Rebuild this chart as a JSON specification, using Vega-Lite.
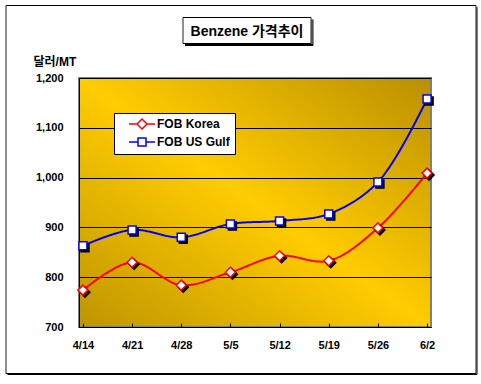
{
  "$schema": "https://vega.github.io/schema/vega-lite/v6.json",
  "width": 352,
  "height": 249,
  "autosize": {"type": "none"},
  "padding": {"left": 79, "top": 78, "right": 50, "bottom": 57},
  "background": "white",
  "config": {
    "view": {
      "stroke": "#808080",
      "strokeWidth": 2,
      "fill": {"gradient": "linear", "x1": 0, "y1": 1, "x2": 1, "y2": 0, "stops": [{"offset": 0, "color": "#BF9500"}, {"offset": 0.5, "color": "#FFCC00"}, {"offset": 1, "color": "#BA8F00"}]}
    },
    "legend": {"labelFont": "Liberation Sans", "labelFontWeight": "bold", "labelColor": "black"}
  },
  "data": {"values": [
    {"date": "4/14", "series": "FOB Korea", "price": 774},
    {"date": "4/21", "series": "FOB Korea", "price": 830},
    {"date": "4/28", "series": "FOB Korea", "price": 784},
    {"date": "5/5", "series": "FOB Korea", "price": 810},
    {"date": "5/12", "series": "FOB Korea", "price": 843},
    {"date": "5/19", "series": "FOB Korea", "price": 833},
    {"date": "5/26", "series": "FOB Korea", "price": 899},
    {"date": "6/2", "series": "FOB Korea", "price": 1009},
    {"date": "4/14", "series": "FOB US Gulf", "price": 863},
    {"date": "4/21", "series": "FOB US Gulf", "price": 895},
    {"date": "4/28", "series": "FOB US Gulf", "price": 880},
    {"date": "5/5", "series": "FOB US Gulf", "price": 907},
    {"date": "5/12", "series": "FOB US Gulf", "price": 913},
    {"date": "5/19", "series": "FOB US Gulf", "price": 927},
    {"date": "5/26", "series": "FOB US Gulf", "price": 991},
    {"date": "6/2", "series": "FOB US Gulf", "price": 1158}
  ]},
  "encoding": {
    "x": {"field": "date", "type": "ordinal", "sort": null, "scale": {"type": "point", "padding": 0.08},
      "axis": {"title": "Benzene 가격추이", "titleX": 167.5, "titleY": -296, "titleAlign": "center", "titleBaseline": "middle", "titleFont": "Liberation Sans, Noto Sans CJK KR", "titleFontSize": 14, "titleFontWeight": "bold", "titleColor": "black",
        "labelAngle": 0, "labelFont": "Liberation Sans", "labelFontSize": 11, "labelFontWeight": "bold", "labelColor": "black", "domainColor": "black", "domainWidth": 1, "tickColor": "black", "tickSize": -4, "labelPadding": 16, "grid": false}},
    "y": {"field": "price", "type": "quantitative", "scale": {"domain": [700, 1200], "nice": false, "zero": false},
      "axis": {"title": "달러/MT", "titleAngle": 0, "titleAlign": "left", "titleBaseline": "middle", "titleX": -46, "titleY": -17, "titleFont": "Liberation Sans, Noto Sans CJK KR", "titleFontSize": 12, "titleFontWeight": "bold", "titleColor": "black",
        "values": [700, 800, 900, 1000, 1100, 1200], "format": ",d", "ticks": false, "labelPadding": 16, "labelFont": "Liberation Sans", "labelFontSize": 11, "labelFontWeight": "bold", "labelColor": "black",
        "grid": true, "gridColor": "black", "gridWidth": 1, "gridOpacity": 1, "domainColor": "black", "domainWidth": 1}}
  },
  "resolve": {"scale": {"shape": "independent", "stroke": "independent"}},
  "layer": [
    {
      "mark": {"type": "line", "interpolate": "catmull-rom", "strokeWidth": 2},
      "encoding": {
        "stroke": {"field": "series", "type": "nominal", "scale": {"domain": ["FOB Korea", "FOB US Gulf"], "range": ["#FF0000", "#0000FF"]}, "legend": null},
        "strokeDash": {"datum": "frame", "type": "nominal", "scale": {"range": [[1, 0]]},
          "legend": {"orient": "none", "legendX": -79, "legendY": -78, "title": null, "padding": 0, "labelExpr": "''", "labelFontSize": 1, "symbolSize": 4,
            "symbolType": "M4.5,4H474.5V372H4.5ZM475.5,5.5V373M475.5,373H6M181.5,16H309.5V42H181.5ZM310.5,18V44M311.5,18V44M183.5,43H311.5M183.5,44H311.5",
            "symbolStrokeColor": "black", "symbolStrokeWidth": 1, "symbolFillColor": "transparent", "symbolOpacity": 1}}
      }
    },
    {
      "mark": {"type": "point", "filled": true, "color": "black", "stroke": "black", "strokeWidth": 1.5, "size": 100, "xOffset": 2, "yOffset": 2, "opacity": 1},
      "encoding": {
        "shape": {"field": "series", "type": "nominal", "scale": {"domain": ["FOB Korea", "FOB US Gulf"], "range": ["diamond", "M-0.8,-0.8H0.8V0.8H-0.8Z"]}, "legend": null}
      }
    },
    {
      "mark": {"type": "point", "filled": true, "fill": "white", "size": 100, "strokeWidth": 1.5, "opacity": 1},
      "encoding": {
        "shape": {"field": "series", "type": "nominal", "scale": {"domain": ["FOB Korea", "FOB US Gulf"], "range": ["diamond", "M-0.8,-0.8H0.8V0.8H-0.8Z"]}, "legend": null},
        "stroke": {"field": "series", "type": "nominal", "scale": {"domain": ["FOB Korea", "FOB US Gulf"], "range": ["#FF0000", "#0000FF"]}, "legend": null}
      }
    },
    {
      "mark": {"type": "point", "filled": true, "fill": "white", "size": 100, "strokeWidth": 1.5, "opacity": 0},
      "encoding": {
        "shape": {"field": "series", "type": "nominal", "scale": {"domain": ["FOB Korea", "FOB US Gulf"], "range": ["M0.8,0H2.4L3.4,-1L4.4,0L3.4,1L2.4,0M4.4,0H6", "M0.8,0H2.6M2.6,-0.8H4.2V0.8H2.6ZM4.2,0H6"]},
          "legend": {"orient": "none", "legendX": 35, "legendY": 35, "title": null, "padding": 5, "rowPadding": 3, "fillColor": "white", "strokeColor": "black",
            "symbolSize": 100, "symbolStrokeWidth": 1.5, "symbolOpacity": 1, "symbolFillColor": "white", "labelOffset": 26, "labelFont": "Liberation Sans", "labelFontSize": 12, "labelFontWeight": "bold", "labelColor": "black"}},
        "stroke": {"field": "series", "type": "nominal", "scale": {"domain": ["FOB Korea", "FOB US Gulf"], "range": ["#FF0000", "#0000FF"]},
          "legend": {"orient": "none", "legendX": 35, "legendY": 35, "title": null, "padding": 5, "rowPadding": 3, "fillColor": "white", "strokeColor": "black",
            "symbolSize": 100, "symbolStrokeWidth": 1.5, "symbolOpacity": 1, "symbolFillColor": "white", "labelOffset": 26, "labelFont": "Liberation Sans", "labelFontSize": 12, "labelFontWeight": "bold", "labelColor": "black"}}
      }
    }
  ]
}
